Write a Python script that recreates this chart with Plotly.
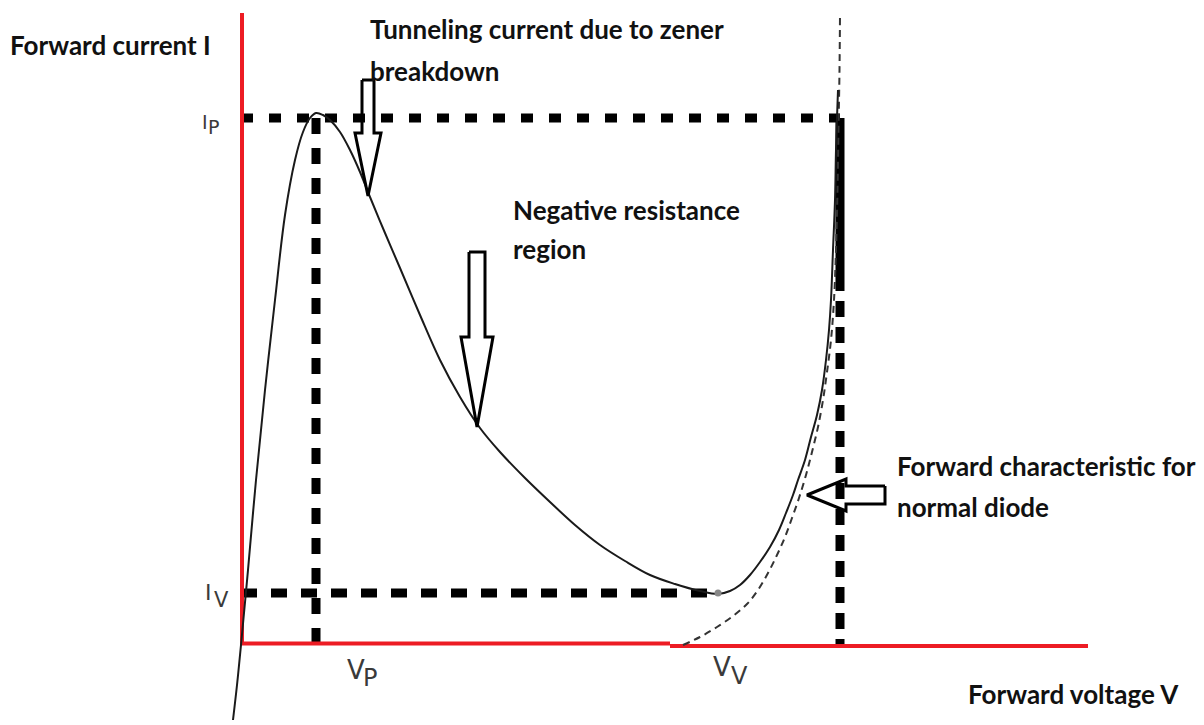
import plotly.graph_objects as go

# ---- data (voltage offset units, current units; origin at the axes corner) ----
# Tunnel diode characteristic (solid)
V_CURVE = [-8, -4, 0, 7, 15, 24, 34, 44, 54, 62, 69, 75, 82, 89, 99, 109, 119, 129, 144,
           159, 179, 199, 219, 239, 259, 284, 309, 334, 359, 384, 409, 434, 459, 477, 489,
           499, 509, 519, 529, 538, 545, 552, 557, 564, 570, 576, 581, 585, 588, 590, 592,
           594, 595, 596, 597]
I_CURVE = [-75, -40, 0, 75, 165, 255, 345, 430, 485, 513, 527, 532, 530, 525, 513, 495,
           473, 448, 412, 377, 330, 285, 248, 217, 193, 167, 143, 120, 100, 84, 70, 61, 54,
           51, 54, 60, 70, 83, 98, 115, 132, 150, 165, 185, 208, 230, 255, 285, 315, 345,
           395, 445, 495, 527, 555]
# Forward characteristic for normal diode (dashed)
V_NORMAL = [442, 459, 476, 492, 506, 517, 527, 536, 544, 551, 558, 565, 571, 577, 582,
            586, 590, 593, 595, 596.5, 597.5, 598.5, 599]
I_NORMAL = [0, 8, 18, 29, 41, 55, 72, 90, 108, 127, 147, 170, 193, 218, 245, 273, 305,
            345, 395, 455, 515, 575, 630]

VP, IP = 75, 527        # peak point
VV, IV = 477, 52        # valley point
V_END = 599             # right construction line
V_AXIS_MAX = 847
I_AXIS_MAX = 632

RED = "#ED1C24"
BLACK = "#000000"

fig = go.Figure()

def seg(x, y, color=BLACK, width=9, dash="solid"):
    fig.add_trace(go.Scatter(x=x, y=y, mode="lines",
                             line=dict(color=color, width=width, dash=dash),
                             hoverinfo="skip", showlegend=False))

# construction (dotted) lines
seg([0, V_END], [IP, IP], dash="12px,16px")
seg([VP, VP], [IP, 0], dash="16px,14px")
seg([0, VV], [IV, IV], dash="16px,14px")
seg([V_END, V_END], [IP, 370], dash="solid")
seg([V_END, V_END], [370, 0], dash="16px,10px")

# red axes
seg([1, 1], [0, I_AXIS_MAX], color=RED, width=4)
seg([0, 429], [1.5, 1.5], color=RED, width=4)
seg([429, V_AXIS_MAX], [-1, -1], color=RED, width=4)

# characteristic curves
fig.add_trace(go.Scatter(x=V_NORMAL, y=I_NORMAL, mode="lines",
                         line=dict(color="#333333", width=2, dash="7px,5px", shape="spline"),
                         hoverinfo="skip", showlegend=False))
fig.add_trace(go.Scatter(x=V_CURVE, y=I_CURVE, mode="lines",
                         line=dict(color="#1a1a1a", width=2, shape="spline", smoothing=1),
                         hoverinfo="skip", showlegend=False))
# valley marker
fig.add_trace(go.Scatter(x=[VV], y=[IV], mode="markers",
                         marker=dict(color="#888888", size=7),
                         hoverinfo="skip", showlegend=False))

# hollow block arrows
def arrow_down(cx, top, sw, hy, hw, tip):
    xs = [cx - sw/2, cx + sw/2, cx + sw/2, cx + hw/2, cx, cx - hw/2, cx - sw/2, cx - sw/2]
    ys = [top, top, hy, hy, tip, hy, hy, top]
    fig.add_trace(go.Scatter(x=xs, y=ys, mode="lines", line=dict(color=BLACK, width=3),
                             hoverinfo="skip", showlegend=False))

def arrow_left(cy, right, sh, hx, hh, tip):
    xs = [right, right, hx, hx, tip, hx, hx, right]
    ys = [cy + sh/2, cy - sh/2, cy - sh/2, cy - hh/2, cy, cy + hh/2, cy + sh/2, cy + sh/2]
    fig.add_trace(go.Scatter(x=xs, y=ys, mode="lines", line=dict(color=BLACK, width=3),
                             hoverinfo="skip", showlegend=False))

arrow_down(127, 565, 12, 512, 26, 449)
arrow_down(236, 393, 16, 308, 32, 218)
arrow_left(150, 644, 18, 605, 32, 566)

# ---- text ----
TXT_FONT = dict(family="Lato", size=26, color="#111111", weight="bold")
def label(text, x, y, font=TXT_FONT):
    fig.add_annotation(x=x, y=y, text=text, showarrow=False, xanchor="left",
                       yanchor="middle", font=font, xref="x", yref="y")

label("Forward current I", -233, 600)
label("Tunneling current due to zener", 127, 616)
label("breakdown", 127, 574)
label("Negative resistance", 270, 435)
label("region", 270, 396)
label("Forward characteristic for", 654, 179)
label("normal diode", 654, 138)
label("Forward voltage V", 725, -49)

SYM_S = dict(family="DejaVu Sans", size=19, color="#3a3a3a")
SYM_M = dict(family="DejaVu Sans", size=22, color="#3a3a3a")
SUB_M = dict(family="DejaVu Sans", size=21, color="#3a3a3a")
SYM_L = dict(family="DejaVu Sans", size=26, color="#3a3a3a")
SUB_L = dict(family="DejaVu Sans", size=24, color="#3a3a3a")
label("I", -41.5, 523.5, SYM_S); label("P", -35, 518, SYM_S)
label("I", -38, 53, SYM_M); label("V", -29, 45, SUB_M)
label("V", 104, -25, SYM_L); label("P", 120, -32.5, SUB_L)
label("V", 470, -22, SYM_L); label("V", 488, -31, SUB_L)

# the page body has an 8px margin, so the axis ranges are shifted by 8 units
fig.update_layout(
    width=1204, height=725,
    margin=dict(l=0, r=0, t=0, b=0),
    paper_bgcolor="white", plot_bgcolor="white",
    xaxis=dict(range=[-233, 971], visible=False, fixedrange=True),
    yaxis=dict(range=[-88, 637], visible=False, fixedrange=True),
    showlegend=False,
)
fig.write_html("out.html")
